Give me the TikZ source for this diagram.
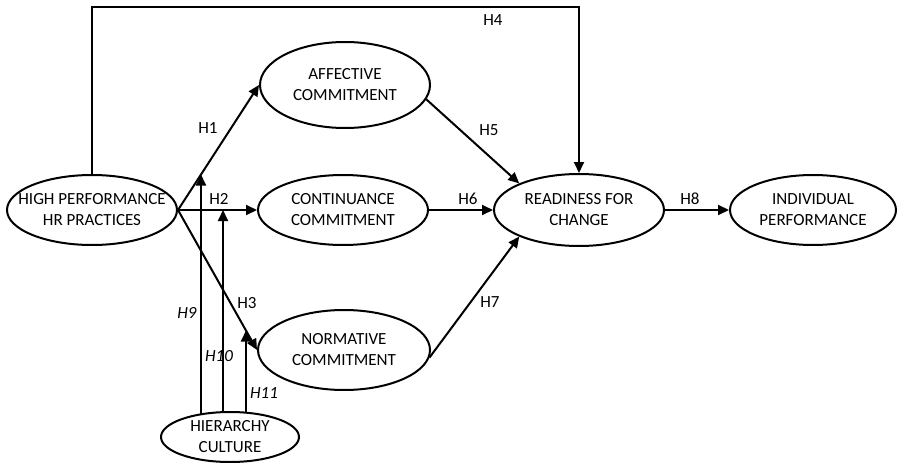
\documentclass[tikz,border=0pt]{standalone}
\usepackage{fontspec}
\setmainfont{Carlito}
\usetikzlibrary{shapes.geometric,arrows.meta,calc}
\begin{document}
\begin{tikzpicture}[x=1pt,y=-1pt,
  construct/.style 2 args={draw,ellipse,line width=2pt,inner sep=0pt,
    label={[align=center,font=\fontsize{17}{21}\selectfont]center:#2}},
  arr/.style={line width=2pt,-{Triangle[length=11pt,width=10pt]}},
  hyp/.style={font=\fontsize{17}{20}\selectfont,inner sep=1pt},
  mod/.style={font=\fontsize{17}{20}\selectfont\itshape,inner sep=1pt}]
\useasboundingbox (0,0) rectangle (898,463);

% constructs (ellipse size fixed, text set as a centred label)
\node[construct={}{HIGH PERFORMANCE\\HR PRACTICES},minimum width=170pt,minimum height=70pt] (hp) at (92,210) {};
\node[construct={}{AFFECTIVE\\COMMITMENT},minimum width=170pt,minimum height=86pt] (aff) at (345,85) {};
\node[construct={}{CONTINUANCE\\COMMITMENT},minimum width=170pt,minimum height=70pt] (cc) at (343,210) {};
\node[construct={}{NORMATIVE\\COMMITMENT},minimum width=172pt,minimum height=80pt] (nc) at (344,350) {};
\node[construct={}{READINESS FOR\\CHANGE},minimum width=170pt,minimum height=72pt] (rc) at (579,210) {};
\node[construct={}{INDIVIDUAL\\PERFORMANCE},minimum width=166pt,minimum height=70pt] (ip) at (813,210) {};
\node[construct={}{HIERARCHY\\CULTURE},minimum width=138pt,minimum height=50pt] (hc) at (230,437) {};

% direct paths
\draw[arr] (hp.east) -- (aff.west);
\draw[arr] (hp.east) -- (cc.west);
\draw[arr] (hp.east) -- (nc.west);
\draw[arr] (aff.-10) -- (rc.156);
\draw[arr] (cc.east) -- (rc.west);
\draw[arr] (nc.-5) -- (rc.204);
\draw[arr] (rc.east) -- (ip.west);
\draw[arr] (hp.north) |- (rc.north |- 0,7) -- (rc.north);

% moderating paths from hierarchy culture onto the H1, H2 and H3 paths
\coordinate (m1) at ($(hp.east)!{23/81}!(aff.west)$);
\coordinate (m2) at ($(hp.east)!{45/79}!(cc.west)$);
\coordinate (m3) at ($(hp.east)!{68/79}!(nc.west)$);
\draw[arr] (m1 |- 0,414) -- (m1);
\draw[arr] (m2 |- 0,412) -- (m2);
\draw[arr] (m3 |- 0,413) -- (m3);

% hypothesis labels
\node[hyp] (h1) at (208,128) {H1};
\node[hyp] (h2) at (219,199) {H2};
\node[hyp] (h3) at (247,303) {H3};
\node[hyp] (h4) at (493,20) {H4};
\node[hyp] (h5) at (489,130) {H5};
\node[hyp] (h6) at (468,199) {H6};
\node[hyp] (h7) at (490,302) {H7};
\node[hyp] (h8) at (690,199) {H8};
\node[mod] (h9) at (187,313) {H9};
\node[mod] (h10) at (219,356) {H10};
\node[mod] (h11) at (264,393) {H11};
\end{tikzpicture}
\end{document}
